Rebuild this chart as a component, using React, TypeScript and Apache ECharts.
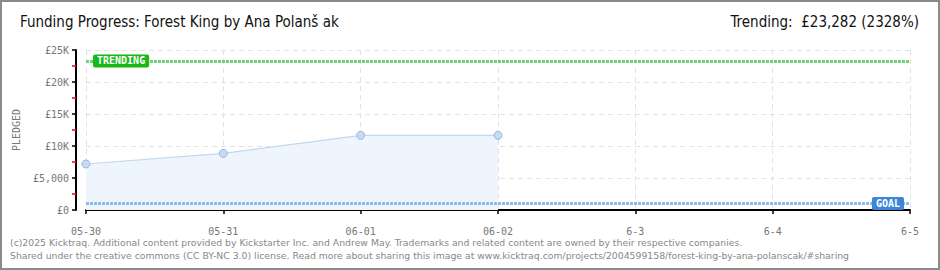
import React, { useEffect, useRef } from "react";
import * as echarts from "echarts";

const categories = ["05-30", "05-31", "06-01", "06-02", "6-3", "6-4", "6-5"];
const pledged = [7190, 8850, 11670, 11670];
const trendingValue = 23282;
const goalValue = 1000;
const titleText = "Funding Progress: Forest King by Ana Polanš ak";
const trendingText = "Trending:  £23,282 (2328%)";
const footer1 = "(c)2025 Kicktraq. Additional content provided by Kickstarter Inc. and Andrew May. Trademarks and related content are owned by their respective companies.";
const footer2 = "Shared under the creative commons (CC BY-NC 3.0) license. Read more about sharing this image at www.kicktraq.com/projects/2004599158/forest-king-by-ana-polanscak/#sharing";

export default function App() {
  const ref = useRef<HTMLDivElement>(null);
  useEffect(() => {
    document.body.style.margin = "0";
    const chart = echarts.init(ref.current!, null, { renderer: "svg" });
    const mono = "'DejaVu Sans Mono', monospace";
    const titleFont = "'DejaVu Sans Condensed', 'DejaVu Sans', sans-serif";
    chart.setOption({
      animation: false,
      backgroundColor: "#ffffff",
      grid: { left: 86, right: 30, top: 50, bottom: 60, containLabel: false },
      xAxis: {
        type: "category",
        data: categories,
        boundaryGap: false,
        offset: 10,
        axisLine: { show: true, lineStyle: { color: "#000", width: 2 } },
        axisTick: { show: true, length: 4, inside: false, lineStyle: { color: "#000", width: 1.5 } },
        axisLabel: { color: "#777", fontFamily: mono, fontSize: 10, margin: 6 },
        splitLine: { show: true, lineStyle: { color: "#e2e2e2", type: [5, 4], width: 1 } },
      },
      yAxis: {
        type: "value",
        min: 0,
        max: 25000,
        interval: 5000,
        offset: 10,
        name: "PLEDGED",
        nameLocation: "middle",
        nameGap: 48,
        nameTextStyle: { color: "#777", fontFamily: mono, fontSize: 10 },
        axisLine: { show: true, lineStyle: { color: "#000", width: 2 } },
        axisTick: { show: true, length: 4, lineStyle: { color: "#000", width: 1.5 } },
        minorTick: { show: true, splitNumber: 2, length: 4, lineStyle: { color: "#ff0000", width: 1.5 } },
        axisLabel: {
          color: "#777",
          fontFamily: mono,
          fontSize: 10,
          margin: 7,
          formatter: (v: number) => (v === 0 ? "£0" : v === 5000 ? "£5,000" : "£" + v / 1000 + "K"),
        },
        splitLine: { show: true, lineStyle: { color: "#e2e2e2", type: [5, 4], width: 1 } },
      },
      series: [
        {
          type: "line",
          data: pledged,
          symbol: "circle",
          symbolSize: 8,
          itemStyle: { color: "#c6dcf5", borderColor: "#98b5d6", borderWidth: 1 },
          lineStyle: { color: "#c0d8f0", width: 1.2 },
          areaStyle: { color: "#eef5fd", opacity: 1 },
          markLine: {
            silent: true,
            symbol: "none",
            data: [
              {
                yAxis: trendingValue,
                lineStyle: { color: "#74d074", width: 3, type: [3, 1] },
                label: {
                  show: true,
                  position: "insideStart",
                  distance: 7,
                  formatter: "TRENDING",
                  color: "#fff",
                  fontFamily: mono,
                  fontSize: 10,
                  fontWeight: "bold",
                  backgroundColor: "#17b817",
                  padding: [2, 4, 1, 4],
                  borderRadius: 2,
                },
              },
              {
                yAxis: goalValue,
                lineStyle: { color: "#8cbbea", width: 3, type: [3, 1] },
                label: {
                  show: true,
                  position: "insideEnd",
                  distance: 6,
                  formatter: "GOAL",
                  color: "#fff",
                  fontFamily: mono,
                  fontSize: 10,
                  fontWeight: "bold",
                  backgroundColor: "#3b87d6",
                  padding: [2, 4, 1, 4],
                  borderRadius: 2,
                },
              },
            ],
          },
        },
      ],
      graphic: [
        {
          type: "rect",
          shape: { x: 1, y: 1, width: 938, height: 268 },
          style: { fill: "none", stroke: "#8a8a8a", lineWidth: 2 },
          z: 100,
        },
        {
          type: "text",
          left: 20,
          top: 14,
          style: { text: titleText, fill: "#111", font: `15px ${titleFont}` },
        },
        {
          type: "text",
          right: 21,
          top: 14,
          style: { text: trendingText, fill: "#111", font: `15px ${titleFont}` },
        },
        {
          type: "text",
          left: 10,
          top: 238,
          style: { text: footer1, fill: "#888", font: `9.3px 'DejaVu Sans', sans-serif` },
        },
        {
          type: "text",
          left: 10,
          top: 251,
          style: { text: footer2, fill: "#888", font: `9.3px 'DejaVu Sans', sans-serif` },
        },
      ],
    });
    return () => chart.dispose();
  }, []);
  return <div ref={ref} style={{ position: "absolute", left: 0, top: 0, width: 940, height: 270 }} />;
}
